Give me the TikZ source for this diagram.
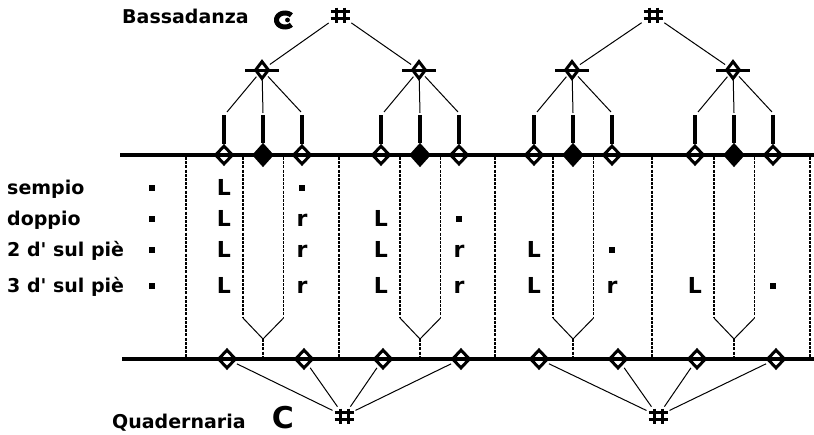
\documentclass[tikz,border=0pt]{standalone}
\usepackage{fontspec}
\setmainfont{DejaVu Sans}
\usetikzlibrary{shapes.geometric}

\begin{document}
\begin{tikzpicture}[x=1pt,y=-1pt,
  staffline/.style={line width=3.2pt},
  twig/.style={line width=1pt},
  guide/.style={line width=1.2pt, dash pattern=on 3pt off 1.2pt},
  stem/.style={line width=3.2pt},
  note/.style={diamond, draw, line width=3pt, inner sep=0pt,
    minimum width=18pt, minimum height=19pt},
  blacknote/.style={note, fill=black, minimum width=19pt, minimum height=21pt},
  longnote/.style={diamond, draw, line width=3pt, inner sep=0pt,
    minimum width=14pt, minimum height=18pt},
  sharpsign/.style={inner sep=0pt, minimum width=19pt, minimum height=15pt},
  lbl/.style={font=\bfseries\fontsize{19}{19}\selectfont, anchor=base west, inner sep=0pt},
  mv/.style={font=\bfseries\fontsize{22}{22}\selectfont, anchor=base, inner sep=0pt},
  beat/.style={fill=black, minimum size=6pt, inner sep=0pt}
]
\useasboundingbox (0,0) rectangle (814,434);

% ---- staff lines
\coordinate (topL) at (120,155);
\coordinate (topR) at (814,155);
\coordinate (botL) at (122,359);
\coordinate (botR) at (814,359);

% ---- dotted guides (straight ones)
\foreach \x [count=\i] in {186,339,495,652,810}{
  \coordinate (ga\i) at (\x,157);
  \coordinate (gb\i) at (\x,357);
  \draw[guide] (ga\i) -- (gb\i);
}

% ---- forked guides under each group
\foreach \c [count=\g] in {263,420,573,734}{
  \coordinate (fl\g) at (\c-20,157);
  \coordinate (fr\g) at (\c+20.5,157);
  \coordinate (fl\g b) at (\c-20,318);
  \coordinate (fr\g b) at (\c+20.5,318);
  \coordinate (fj\g) at (\c,339);
  \coordinate (fe\g) at (\c,357);
  \draw[guide] (fl\g) -- (fl\g b);
  \draw[guide] (fr\g) -- (fr\g b);
  \draw[twig] (fl\g b) -- (fj\g) -- (fr\g b);
  \draw[guide] (fj\g) -- (fe\g);
}

\draw[staffline] (topL) -- (topR);
\draw[staffline] (botL) -- (botR);

% ---- upper staff: groups of three notes split from one long note
\foreach \c [count=\g] in {263,420,573,734}{
  \node[note]      (t\g a) at (\c-39,155) {};
  \node[blacknote] (t\g b) at (\c,155) {};
  \node[note]      (t\g c) at (\c+39,155) {};
  \coordinate (s\g a) at (\c-39,115);
  \coordinate (s\g b) at (\c,115);
  \coordinate (s\g c) at (\c+39,115);
  \draw[stem] (s\g a) -- (t\g a);
  \draw[stem] (s\g b) -- (t\g b);
  \draw[stem] (s\g c) -- (t\g c);
  \node[longnote] (u\g) at (\c-1,70) {};
  \coordinate (ub\g l) at (\c-18,70);
  \coordinate (ub\g r) at (\c+16,70);
  \draw[line width=3pt] (ub\g l) -- (ub\g r);
  \coordinate (k\g a) at (\c-36,112);
  \coordinate (k\g b) at (\c,113);
  \coordinate (k\g c) at (\c+38,112);
  \draw[twig, shorten <=2pt] (u\g) -- (k\g a);
  \draw[twig] (u\g) -- (k\g b);
  \draw[twig, shorten <=2pt] (u\g) -- (k\g c);
}

% ---- sharp sign strokes, drawn round a named node
\newcommand\drawsharp[1]{%
  \draw[line width=3pt]
    ([shift={(-4,-7.5)}]#1.center) -- ([shift={(-4,7.5)}]#1.center)
    ([shift={(4,-7.5)}]#1.center) -- ([shift={(4,7.5)}]#1.center);
  \draw[line width=2.6pt]
    ([shift={(-9.5,-3.5)}]#1.center) -- ([shift={(9.5,-3.5)}]#1.center)
    ([shift={(-9.5,3.5)}]#1.center) -- ([shift={(9.5,3.5)}]#1.center);
}

% ---- sharps of the bassadanza measure
\node[sharpsign] (sa) at (340,15) {};
\node[sharpsign] (sb) at (653,15) {};
\drawsharp{sa}
\drawsharp{sb}
\draw[twig, shorten <=2pt, shorten >=3pt] (sa) -- (u1);
\draw[twig, shorten <=2pt, shorten >=3pt] (sa) -- (u2);
\draw[twig, shorten <=2pt, shorten >=3pt] (sb) -- (u3);
\draw[twig, shorten <=2pt, shorten >=3pt] (sb) -- (u4);

% ---- lower staff: quadernaria notes
\foreach \x [count=\i] in {227,304,383,461,539,618,697,776}{
  \node[note] (b\i) at (\x,359) {};
}
\node[sharpsign] (sc) at (344,416) {};
\node[sharpsign] (sd) at (658,416) {};
\drawsharp{sc}
\drawsharp{sd}
\foreach \i in {1,2,3,4}{
  \draw[twig, shorten <=2pt, shorten >=3pt] (sc) -- (b\i);
}
\foreach \i in {5,6,7,8}{
  \draw[twig, shorten <=2pt, shorten >=3pt] (sd) -- (b\i);
}

% ---- titles and mensuration signs
\node[lbl] (bass) at (122,23) {Bassadanza};
% C with a dot: an open ring, gap to the right
\draw[line width=5pt] plot[smooth, domain=42:318, samples=36]
  ({285+8.5*cos(\x)},{20+7*sin(\x)});
\fill (287.5,20) circle[radius=2.4pt];
\node[lbl] (quad) at (112,428) {Quadernaria};
\node[mv, font=\bfseries\fontsize{30}{30}\selectfont] (qc) at (283,428) {C};

% ---- step table
\node[lbl] (n1) at (7,194) {sempio};
\node[lbl] (n2) at (7,225) {doppio};
\node[lbl] (n3) at (7,256) {2 d\textquotesingle\ sul piè};
\node[lbl] (n4) at (7,292) {3 d\textquotesingle\ sul piè};

% sempio
\node[beat] (r1a) at (152,188) {};
\node[mv]   (r1b) at (224,195) {L};
\node[beat] (r1c) at (302,188) {};
% doppio
\node[beat] (r2a) at (152,219) {};
\node[mv]   (r2b) at (224,226) {L};
\node[mv]   (r2c) at (302,226) {r};
\node[mv]   (r2d) at (381,226) {L};
\node[beat] (r2e) at (459,219) {};
% 2 doppi sul piede
\node[beat] (r3a) at (152,250) {};
\node[mv]   (r3b) at (224,257) {L};
\node[mv]   (r3c) at (302,257) {r};
\node[mv]   (r3d) at (381,257) {L};
\node[mv]   (r3e) at (459,257) {r};
\node[mv]   (r3f) at (534,257) {L};
\node[beat] (r3g) at (612,250) {};
% 3 doppi sul piede
\node[beat] (r4a) at (152,286) {};
\node[mv]   (r4b) at (224,293) {L};
\node[mv]   (r4c) at (302,293) {r};
\node[mv]   (r4d) at (381,293) {L};
\node[mv]   (r4e) at (459,293) {r};
\node[mv]   (r4f) at (534,293) {L};
\node[mv]   (r4g) at (612,293) {r};
\node[mv]   (r4h) at (695,293) {L};
\node[beat] (r4i) at (773,286) {};
\end{tikzpicture}
\end{document}
